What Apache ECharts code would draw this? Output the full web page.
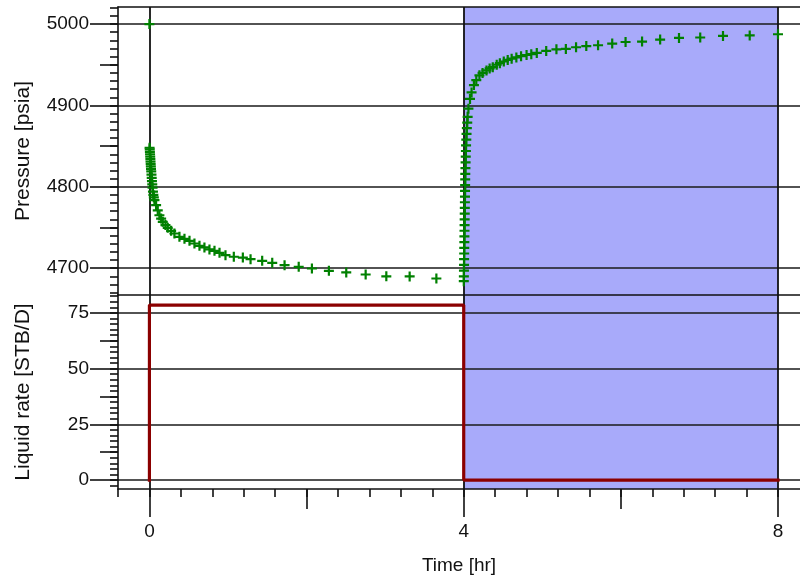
<!DOCTYPE html>
<html>
<head>
<meta charset="utf-8">
<script src="https://cdn.jsdelivr.net/npm/echarts@6/dist/echarts.min.js"></script>
<style>
    html, body { margin: 0; padding: 0; background: #fff; }
    #chart { width: 800px; height: 582px; }
</style>
</head>
<body>
<div id="chart"></div>
<script>
    // pressure gauge readings (time in hr, pressure in psia)
    var pressureTime = [
        0,
        0.002, 0.004, 0.006, 0.008, 0.010, 0.012, 0.014, 0.016, 0.018, 0.020,
        0.023, 0.026, 0.029, 0.032, 0.036, 0.040, 0.045, 0.050, 0.056,
        0.064, 0.085, 0.106, 0.127, 0.149, 0.170, 0.204, 0.233, 0.276,
        0.318, 0.382, 0.446, 0.510, 0.573, 0.637, 0.700, 0.764, 0.828, 0.892, 0.968,
        1.074, 1.189, 1.287, 1.435, 1.563, 1.720, 1.900, 2.068, 2.284, 2.505,
        2.752, 3.015, 3.312, 3.652,
        4.001, 4.002, 4.003, 4.004, 4.005, 4.006, 4.007, 4.008, 4.009, 4.010,
        4.011, 4.012, 4.013, 4.014, 4.015, 4.016, 4.017, 4.018, 4.019, 4.020,
        4.022, 4.024, 4.026, 4.028, 4.030, 4.033, 4.036, 4.040, 4.045, 4.050,
        4.060, 4.080, 4.100, 4.130, 4.160, 4.200, 4.240, 4.290, 4.330, 4.370,
        4.420, 4.460, 4.510, 4.560, 4.610, 4.670, 4.730, 4.800, 4.860, 4.930,
        5.050, 5.180, 5.300, 5.430, 5.560, 5.710, 5.890, 6.060, 6.270, 6.500,
        6.740, 7.010, 7.300, 7.640, 8.000
    ];
    var pressureValue = [
        5000,
        4848, 4846, 4843, 4840, 4837, 4834, 4831, 4828, 4825, 4822,
        4819, 4815, 4811, 4807, 4803, 4799, 4794, 4790, 4787,
        4783.6, 4777.4, 4771, 4765, 4761, 4757, 4753, 4749.6, 4745.9,
        4742.6, 4738.5, 4736, 4733.6, 4730.3, 4727.5, 4725.5, 4723, 4721.3, 4718.8, 4716,
        4714, 4713, 4711, 4709, 4706.5, 4703.7, 4701.6, 4699.6, 4696.7, 4694.7,
        4692.2, 4690, 4689.8, 4687.3,
        4684, 4690, 4697, 4704, 4711, 4718, 4725, 4732, 4739, 4746,
        4753, 4760, 4767, 4774, 4781, 4788, 4795, 4802, 4809, 4816,
        4823, 4830, 4837, 4844, 4851, 4858, 4865, 4872, 4879, 4886,
        4896, 4908, 4916, 4925, 4931, 4937, 4940, 4943, 4945.5, 4947,
        4950, 4952, 4954, 4956, 4957.5, 4959, 4960.5, 4962, 4963, 4964.5,
        4967, 4969, 4969.5, 4971.5, 4973, 4974, 4976, 4978, 4978.5, 4981,
        4983, 4983.5, 4985.5, 4986, 4987.5
    ];

    // liquid rate history (step)
    var rateTime = [0, 0, 4, 4, 8];
    var rateValue = [0, 78.5, 78.5, 0, 0];

    // shut-in (build-up) period
    var shutIn = [4, 8];

    // axis ranges and ticks
    var timeRange = [-0.4, 8.28];
    var pressureRange = [4667, 5021];
    var rateRange = [-4, 83];
    var timeLabels = [0, 4, 8];
    var timeMidTicks = [2, 6];
    var pressureLabels = [4700, 4800, 4900, 5000];
    var pressureMidTicks = [4750, 4850, 4950];
    var rateLabels = [0, 25, 50, 75];
    var rateMidTicks = [12.5, 37.5, 62.5];

    function steps(a, b, step) {
        var out = [];
        for (var i = 0; a + i * step <= b + 1e-9; i++) {
            out.push(Math.round((a + i * step) * 1000) / 1000);
        }
        return out;
    }
    var timeMinorTicks = steps(-0.4, 8.0, 0.4);
    var pressureMinorTicks = steps(4670, 5020, 10);
    var rateMinorTicks = steps(-2.5, 82.5, 2.5);

    var FONT = 'Liberation Sans, Arial, sans-serif';
    var LINE = { color: '#111', width: 1.6 };
    var plain = function (v) { return String(v); };

    var crossPath = 'path://M3.9,0H6.1V3.9H10V6.1H6.1V10H3.9V6.1H0V3.9H3.9Z';

    function tickAxis(grid, pos, range, ticks, len, showLine) {
        return {
            type: 'value', gridIndex: grid, position: pos,
            min: range[0], max: range[1], z: 3,
            axisLine: { show: showLine, onZero: false, lineStyle: LINE },
            axisTick: { show: ticks != null, customValues: ticks || undefined, length: len, lineStyle: LINE },
            axisLabel: { show: false },
            splitLine: { show: false }
        };
    }

    var option = {
        animation: false,
        backgroundColor: '#fff',
        grid: [
            { left: 118, top: 7, width: 682, height: 288 },
            { left: 118, top: 295, width: 682, height: 194 }
        ],
        xAxis: [
            // top panel: vertical lines at 0,4,8 and bottom border
            {
                type: 'value', gridIndex: 0, position: 'bottom',
                min: timeRange[0], max: timeRange[1], z: 3,
                axisLine: { show: true, onZero: false, lineStyle: LINE },
                axisTick: { show: false, customValues: timeLabels },
                axisLabel: { show: false },
                splitLine: { show: true, lineStyle: { color: '#111', width: 1.8 } }
            },
            tickAxis(0, 'top', timeRange, null, 0, true),
            // bottom panel time axis
            tickAxis(1, 'bottom', timeRange, timeMinorTicks, 8, true),
            tickAxis(1, 'bottom', timeRange, timeMidTicks, 20, false),
            {
                type: 'value', gridIndex: 1, position: 'bottom',
                min: timeRange[0], max: timeRange[1], z: 3,
                name: 'Time [hr]', nameLocation: 'middle', nameGap: 67,
                nameTextStyle: { fontFamily: FONT, fontSize: 19, color: '#111' },
                axisLine: { show: false, onZero: false },
                axisTick: { show: true, customValues: timeLabels, length: 28, lineStyle: LINE },
                axisLabel: { show: true, customValues: timeLabels, formatter: plain, margin: 33, fontFamily: FONT, fontSize: 19, color: '#111' },
                splitLine: { show: true, lineStyle: { color: '#111', width: 1.8 } }
            }
        ],
        yAxis: [
            tickAxis(0, 'left', pressureRange, pressureMinorTicks, 8, true),
            tickAxis(0, 'left', pressureRange, pressureMidTicks, 18, false),
            {
                type: 'value', gridIndex: 0, position: 'left',
                min: pressureRange[0], max: pressureRange[1], z: 3,
                name: 'Pressure [psia]', nameLocation: 'middle', nameGap: 84,
                nameTextStyle: { fontFamily: FONT, fontSize: 21, color: '#111' },
                axisLine: { show: false, onZero: false },
                axisTick: { show: true, customValues: pressureLabels, length: 28, lineStyle: LINE },
                axisLabel: { show: true, customValues: pressureLabels, formatter: plain, margin: 29, fontFamily: FONT, fontSize: 19, color: '#111' },
                splitLine: { show: true, lineStyle: { color: '#1a1a1a', width: 1.6 } }
            },
            tickAxis(1, 'left', rateRange, rateMinorTicks, 8, true),
            tickAxis(1, 'left', rateRange, rateMidTicks, 18, false),
            {
                type: 'value', gridIndex: 1, position: 'left',
                min: rateRange[0], max: rateRange[1], z: 3,
                name: 'Liquid rate [STB/D]', nameLocation: 'middle', nameGap: 84,
                nameTextStyle: { fontFamily: FONT, fontSize: 21, color: '#111' },
                axisLine: { show: false, onZero: false },
                axisTick: { show: true, customValues: rateLabels, length: 28, lineStyle: LINE },
                axisLabel: { show: true, customValues: rateLabels, formatter: plain, margin: 29, fontFamily: FONT, fontSize: 19, color: '#111' },
                splitLine: { show: true, lineStyle: { color: '#1a1a1a', width: 1.6 } }
            }
        ],
        series: [
            {
                name: 'Pressure',
                type: 'scatter',
                xAxisIndex: 0, yAxisIndex: 0,
                z: 5,
                symbol: crossPath,
                symbolSize: 10,
                itemStyle: { color: '#008000', opacity: 1 },
                data: pressureTime.map(function (t, i) { return [t, pressureValue[i]]; }),
                markArea: {
                    silent: true,
                    itemStyle: { color: '#a8aafa' },
                    data: [[{ xAxis: shutIn[0] }, { xAxis: shutIn[1] }]]
                }
            },
            {
                name: 'Liquid rate',
                type: 'line',
                xAxisIndex: 2, yAxisIndex: 3,
                z: 5,
                symbol: 'none',
                lineStyle: { color: '#8b0000', width: 3.2, cap: 'square' },
                data: rateTime.map(function (t, i) { return [t, rateValue[i]]; }),
                markArea: {
                    silent: true,
                    itemStyle: { color: '#a8aafa' },
                    data: [[{ xAxis: shutIn[0] }, { xAxis: shutIn[1] }]]
                }
            }
        ]
    };

    echarts.init(document.getElementById('chart')).setOption(option);
</script>
</body>
</html>
